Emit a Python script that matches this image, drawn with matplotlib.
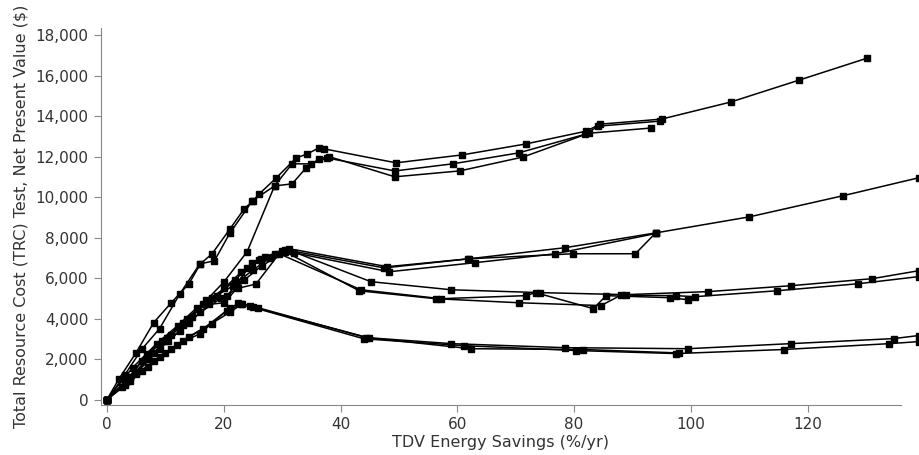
import matplotlib.pyplot as plt
from matplotlib.ticker import FuncFormatter

# TDV energy savings (%/yr) and TRC net present value ($) per measure package
a1_x = [0, 2, 5, 8, 11, 14, 16, 18, 21, 23.5, 25, 26.1, 29, 32.4, 34.3, 36.3, 37.2, 49.5, 60.8, 71.7, 82, 84.5, 95, 106.8, 118.6, 130.2]
a1_y = [0, 1000, 2320, 3800, 4780, 5700, 6700, 7200, 8400, 9420, 9810, 10160, 10950, 11930, 12130, 12430, 12380, 11690, 12080, 12620, 13250, 13600, 13850, 14690, 15780, 16860]
a2_x = [0, 3, 6, 9, 12.5, 15.9, 18.4, 21, 24.9, 28.7, 31.7, 35, 37.7, 49.3, 59.2, 70.5, 81.9, 84.1, 94.7]
a2_y = [0, 1200, 2500, 3500, 5230, 6700, 6850, 8200, 9810, 10550, 11640, 11640, 11930, 11290, 11640, 12180, 13100, 13500, 13750]
a3_x = [0, 4, 7, 10, 13, 17, 20, 24, 28.7, 31.7, 34.1, 36.3, 38, 49.3, 60.4, 71.3, 82.5, 93.2]
a3_y = [0, 1100, 2000, 2900, 3700, 4900, 5800, 7300, 10550, 10650, 11440, 11880, 12000, 11000, 11290, 11980, 13150, 13410]

b1_x = [0, 3.4, 6.8, 10.2, 13.7, 17.1, 20.6, 22.2, 24.9, 26.4, 28.7, 31.2, 48, 62, 78.5, 94, 110, 126, 139]
b1_y = [0, 940, 2270, 3060, 3990, 4880, 5130, 5720, 6760, 6950, 7200, 7450, 6560, 6950, 7500, 8230, 9020, 10060, 10950]
b2_x = [0, 4.4, 8.5, 12.1, 15.4, 18.8, 22, 23.9, 27, 30, 32, 48.3, 63.1, 76.8, 94]
b2_y = [0, 1580, 2760, 3650, 4540, 5130, 5900, 6510, 7050, 7350, 7250, 6310, 6760, 7200, 8200]
b3_x = [0, 3, 6, 9.5, 13, 16.5, 20.1, 23, 26, 30.5, 47.5, 61.9, 79.9, 90.5, 94]
b3_y = [0, 800, 1900, 2900, 3800, 4700, 5500, 6300, 6900, 7400, 6500, 6950, 7200, 7200, 8230]

c1_x = [0, 4, 8, 11, 14.5, 18, 21.5, 25, 28, 31, 45.2, 59, 74.2, 88.9, 103, 117.1, 131.1, 139]
c1_y = [0, 1100, 2300, 3200, 4100, 5000, 5600, 6400, 7000, 7400, 5820, 5420, 5280, 5180, 5330, 5620, 5970, 6360]
c2_x = [0, 3.5, 7, 10.5, 14, 17.5, 20.1, 23.5, 26.5, 30.5, 43.2, 56.3, 70.5, 84.6, 88, 97.4, 100.7, 114.7, 128.7, 139]
c2_y = [0, 900, 2000, 2900, 3800, 4700, 4780, 5900, 6600, 7300, 5370, 4980, 4780, 4640, 5150, 5130, 5080, 5370, 5720, 6070]
c3_x = [0, 5, 9, 12.5, 16, 19.5, 22.5, 25.5, 29.5, 43.5, 57.2, 71.7, 73.4, 83.3, 85.5, 96.4, 99.5]
c3_y = [0, 1300, 2500, 3400, 4300, 5000, 5500, 5700, 7200, 5420, 4980, 5130, 5280, 4490, 5130, 5030, 4930]

d1_x = [0, 2.5, 5, 8, 11, 14, 17.9, 21, 23.2, 25.8, 44.4, 59, 78.5, 99.5, 117.1, 134.8, 139]
d1_y = [0, 600, 1250, 1900, 2500, 3100, 3750, 4300, 4730, 4540, 3060, 2760, 2560, 2510, 2760, 3010, 3160]
d2_x = [0, 3, 6, 9, 12, 15.9, 20.5, 23, 25, 44, 61.1, 80.4, 97.4, 115.9, 134, 139]
d2_y = [0, 700, 1400, 2100, 2700, 3250, 4390, 4700, 4550, 3000, 2660, 2420, 2270, 2470, 2760, 2860]
d3_x = [0, 4, 7, 10, 13, 16.5, 21, 22.5, 24.5, 44.8, 62.3, 81.6, 98]
d3_y = [0, 900, 1600, 2300, 2900, 3500, 4500, 4750, 4600, 3050, 2510, 2470, 2300]

series = [(a1_x, a1_y), (a2_x, a2_y), (a3_x, a3_y),
          (b1_x, b1_y), (b2_x, b2_y), (b3_x, b3_y),
          (c1_x, c1_y), (c2_x, c2_y), (c3_x, c3_y),
          (d1_x, d1_y), (d2_x, d2_y), (d3_x, d3_y)]

fig = plt.figure(figsize=(9.19, 4.55), dpi=100)
ax = fig.add_axes([0.1099, 0.1099, 0.8705, 0.8286])

for xs, ys in series:
    ax.plot(xs, ys, color='black', lw=1.1, marker='s', ms=4.5,
            mec='black', mfc='black', clip_on=False)

ax.set_xlim(-1.03, 136.0)
ax.set_ylim(-270, 18350)
ax.set_xticks([0, 20, 40, 60, 80, 100, 120])
ax.set_yticks(range(0, 18001, 2000))
ax.yaxis.set_major_formatter(FuncFormatter(lambda v, p: f'{int(v):,}'))

for s in ['top', 'right']:
    ax.spines[s].set_visible(False)
for s in ['left', 'bottom']:
    ax.spines[s].set_color('#888888')
ax.tick_params(colors='#888888', labelcolor='#333333', labelsize=11, length=5, pad=4)

ax.set_xlabel('TDV Energy Savings (%/yr)', fontsize=11.5, color='#333333', labelpad=2)
ax.set_ylabel('Total Resource Cost (TRC) Test, Net Present Value ($)', fontsize=11.5,
              color='#333333', labelpad=5)

fig.savefig('out.png', dpi=100)
